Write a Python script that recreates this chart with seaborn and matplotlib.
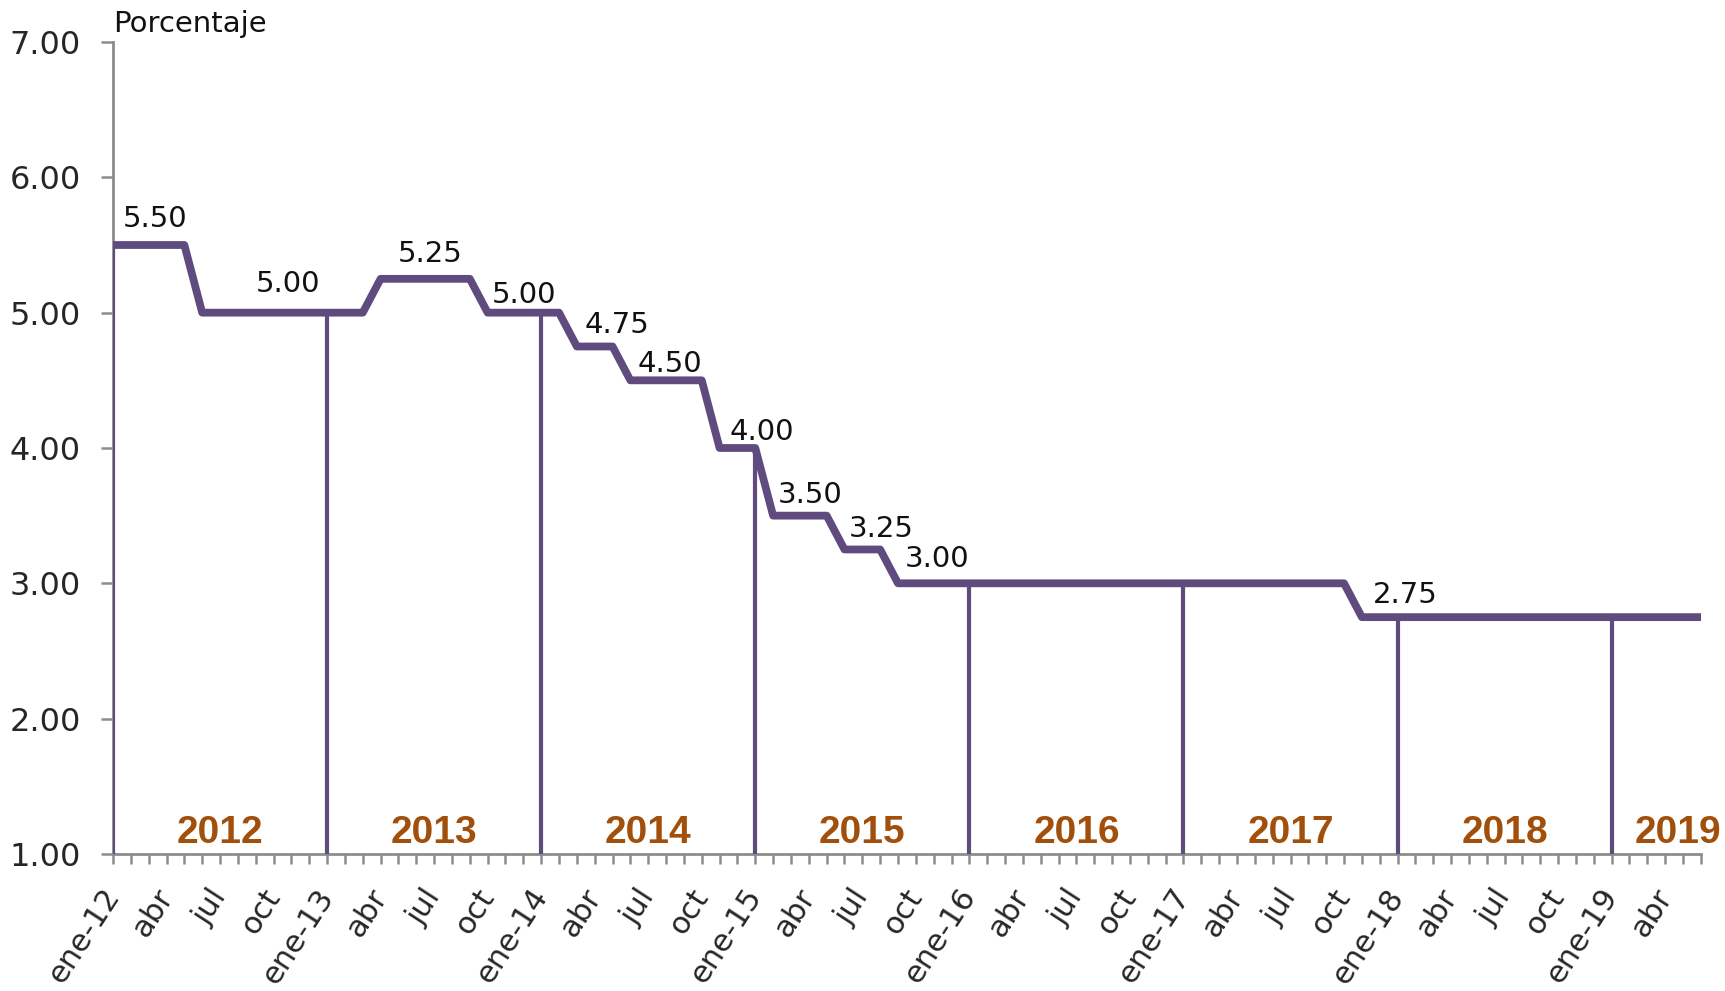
import numpy as np
import pandas as pd
import matplotlib
matplotlib.use("Agg")
import matplotlib.pyplot as plt
import seaborn as sns

# ---------------- data ----------------
months_es = ["ene", "feb", "mar", "abr", "may", "jun", "jul", "ago", "sep", "oct", "nov", "dic"]
years = [2012, 2013, 2014, 2015, 2016, 2017, 2018, 2019]
n_months = 90  # ene-12 .. jun-19

rate = [
    5.50, 5.50, 5.50, 5.50, 5.50, 5.00, 5.00, 5.00, 5.00, 5.00, 5.00, 5.00,   # 2012
    5.00, 5.00, 5.00, 5.25, 5.25, 5.25, 5.25, 5.25, 5.25, 5.00, 5.00, 5.00,   # 2013
    5.00, 5.00, 4.75, 4.75, 4.75, 4.50, 4.50, 4.50, 4.50, 4.50, 4.00, 4.00,   # 2014
    4.00, 3.50, 3.50, 3.50, 3.50, 3.25, 3.25, 3.25, 3.00, 3.00, 3.00, 3.00,   # 2015
    3.00, 3.00, 3.00, 3.00, 3.00, 3.00, 3.00, 3.00, 3.00, 3.00, 3.00, 3.00,   # 2016
    3.00, 3.00, 3.00, 3.00, 3.00, 3.00, 3.00, 3.00, 3.00, 3.00, 2.75, 2.75,   # 2017
    2.75, 2.75, 2.75, 2.75, 2.75, 2.75, 2.75, 2.75, 2.75, 2.75, 2.75, 2.75,   # 2018
    2.75, 2.75, 2.75, 2.75, 2.75, 2.75,                                       # 2019
]

# value labels: (month position of label centre, value)
label_x = [2.35, 9.82, 17.76, 23.06, 28.24, 31.23, 36.37, 39.10, 43.04, 46.20, 72.45]
label_val = [5.50, 5.00, 5.25, 5.00, 4.75, 4.50, 4.00, 3.50, 3.25, 3.00, 2.75]
year_label_x = [6, 18, 30, 42, 54, 66, 78, 87.7]

y_ticks = [1, 2, 3, 4, 5, 6, 7]

# ---------------- styling ----------------
PURPLE = "#5F4B7E"
BROWN = "#A14F0B"
GREY = "#8C8C8C"
label_dy_pts = [13, 15, 12, 7, 10, 6, 6, 9, 9, 12, 10]

idx = np.arange(n_months)
tick_text = []
for i in idx:
    m = i % 12
    y = 12 + i // 12
    if i % 3 == 0:
        tick_text.append(f"ene-{y}" if m == 0 else months_es[m])
    else:
        tick_text.append("")

df = pd.DataFrame({"mes": idx, "tasa": rate})

sns.set_style("white")
plt.rcParams["font.family"] = ["DejaVu Sans"]

fig = plt.figure(figsize=(17.25, 9.91), dpi=100)
ax = fig.add_axes([0.0655, 0.1383, 0.9205, 0.8193])

# January vertical bars up to the line value
jan_idx = [i for i in idx if i % 12 == 0]
ax.vlines(jan_idx, 1, [rate[i] for i in jan_idx], color=PURPLE, lw=3.0, zorder=2)

sns.lineplot(data=df, x="mes", y="tasa", ax=ax, color=PURPLE, lw=5.6,
             zorder=3, legend=False)

for x, v, dy in zip(label_x, label_val, label_dy_pts):
    ax.annotate(f"{v:.2f}", xy=(x, v), xytext=(0, dy), textcoords="offset points",
                ha="center", va="baseline", fontsize=21, color="#111111")

for x, yr in zip(year_label_x, years):
    ax.text(x, 1.08, str(yr), ha="center", va="baseline", fontsize=28,
            fontweight="bold", color=BROWN,
            family=["Liberation Sans", "DejaVu Sans"], clip_on=False)

ax.set_xlim(0, n_months - 1)
ax.set_ylim(1, 7)
ax.set_yticks(y_ticks)
ax.set_yticklabels([f"{t:.2f}" for t in y_ticks], fontsize=23)
ax.set_xticks(idx)
ax.set_xticklabels(tick_text, fontsize=22)
for lab in ax.get_xticklabels():
    lab.set_rotation(57)
    lab.set_ha("right")
    lab.set_va("center")
    lab.set_rotation_mode("anchor")

ax.tick_params(axis="y", direction="out", length=9, width=1.8, color=GREY, pad=14, left=True)
ax.tick_params(axis="x", direction="out", length=7, width=1.8, color=GREY, pad=20, bottom=True)

for s in ["top", "right"]:
    ax.spines[s].set_visible(False)
for s in ["left", "bottom"]:
    ax.spines[s].set_color(GREY)
    ax.spines[s].set_linewidth(2)
    ax.spines[s].set_zorder(1)

ax.set_xlabel("")
ax.set_ylabel("")
ax.grid(False)
ax.text(0.0, 1.005, "Porcentaje", transform=ax.transAxes, ha="left", va="bottom",
        fontsize=21, color="#111111")

fig.savefig("out.png", dpi=100)
